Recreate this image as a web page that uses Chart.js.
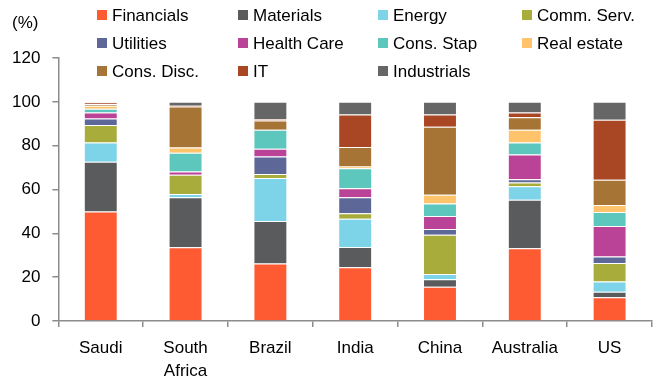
<!DOCTYPE html>
<html>
<head>
<meta charset="utf-8">
<script src="https://cdn.jsdelivr.net/npm/chart.js@4/dist/chart.umd.min.js"></script>
<style>
    body { margin: 0; background: #fff; font-family: 'Liberation Sans', Arial, sans-serif; }
    #wrap { position: relative; width: 662px; height: 382px; }
    #chart { position: absolute; left: 0; top: 0; }
    .unit { position: absolute; left: 12px; top: 13px; font-size: 17px; color: #000; }
    .leg { position: absolute; font-size: 17px; color: #000; white-space: nowrap; line-height: 20px; }
    .leg i { display: inline-block; width: 10px; height: 10px; margin-right: 5px; vertical-align: 1px; }
</style>
</head>
<body>
<div id="wrap">
    <canvas id="chart" width="662" height="382"></canvas>
    <div class="unit">(%)</div>
    <div id="legend"></div>
</div>
<script>
const countries = [['Saudi'], ['South', 'Africa'], ['Brazil'], ['India'], ['China'], ['Australia'], ['US']];
const yTicks = [0, 20, 40, 60, 80, 100, 120];

const financials = [50, 33.6, 26.2, 24.5, 15.6, 33.2, 10.8];
const materials = [22.7, 22.9, 19.4, 9.3, 3.4, 22.1, 2.5];
const energy = [8.8, 1.4, 19.7, 12.9, 2.5, 6.2, 4.7];
const commServ = [7.9, 8.8, 1.8, 2.5, 17.9, 1.7, 8.5];
const utilities = [3, 0, 8, 7.3, 2.6, 1.5, 2.9];
const healthCare = [2.7, 1.5, 3.5, 4.1, 5.9, 11.3, 13.9];
const consStap = [1.7, 8.6, 8.7, 9.1, 5.7, 5.4, 6.4];
const realEstate = [1.4, 2.4, 0, 0.8, 4, 5.9, 3.2];
const consDisc = [0.8, 18.7, 4.2, 8.9, 31, 5.7, 11.5];
const it = [0.8, 0.3, 0.6, 14.8, 5.6, 2.1, 27.4];
const industrials = [0.2, 1.8, 7.9, 5.8, 5.8, 4.9, 8.2];

const series = [
    { label: 'Financials', data: financials, color: '#ff5b33' },
    { label: 'Materials', data: materials, color: '#5a5b5d' },
    { label: 'Energy', data: energy, color: '#7dd3e7' },
    { label: 'Comm. Serv.', data: commServ, color: '#a7ac3b' },
    { label: 'Utilities', data: utilities, color: '#5e6898' },
    { label: 'Health Care', data: healthCare, color: '#ba4397' },
    { label: 'Cons. Stap', data: consStap, color: '#5dc6bd' },
    { label: 'Real estate', data: realEstate, color: '#ffc46b' },
    { label: 'Cons. Disc.', data: consDisc, color: '#a67435' },
    { label: 'IT', data: it, color: '#a94623' },
    { label: 'Industrials', data: industrials, color: '#666666' }
];

// legende em grade 4 colunas
const legCols = [97, 238, 378, 522];
const legRows = [16, 44, 72];
const legend = document.getElementById('legend');
series.forEach((s, i) => {
    const el = document.createElement('div');
    el.className = 'leg';
    el.style.left = legCols[i % 4] + 'px';
    el.style.top = (legRows[Math.floor(i / 4)] - 10) + 'px';
    el.innerHTML = `<i style="background:${s.color}"></i>${s.label}`;
    legend.appendChild(el);
});

const axisColor = '#8c8c8c';
const tickFont = { family: "'Liberation Sans', Arial, sans-serif", size: 17 };

new Chart(document.getElementById('chart'), {
    type: 'bar',
    data: {
        labels: countries,
        datasets: series.map(s => ({
            label: s.label,
            data: s.data,
            backgroundColor: s.color,
            borderColor: 'rgba(255,255,255,0.45)',
            borderWidth: 1,
            categoryPercentage: 1,
            barPercentage: 0.4
        }))
    },
    options: {
        responsive: false,
        animation: false,
        layout: { padding: { left: 0, right: 10, top: 58, bottom: 0 } },
        plugins: { legend: { display: false }, tooltip: { enabled: false } },
        scales: {
            x: {
                stacked: true,
                afterFit: axis => { axis.height = 61; },
                border: { color: axisColor, width: 1.5 },
                grid: { drawOnChartArea: false, color: axisColor, lineWidth: 1.5, tickLength: 6, offset: true },
                ticks: { color: '#000', font: { ...tickFont, lineHeight: 1.35 }, padding: 10, maxRotation: 0, autoSkip: false }
            },
            y: {
                stacked: true,
                min: 0,
                max: 120,
                afterBuildTicks: axis => { axis.ticks = yTicks.map(v => ({ value: v })); },
                border: { color: axisColor, width: 1.5 },
                grid: { drawOnChartArea: false, color: axisColor, lineWidth: 1.5, tickLength: 6 },
                ticks: { color: '#000', font: tickFont, padding: 12 }
            }
        }
    }
});
</script>
</body>
</html>
